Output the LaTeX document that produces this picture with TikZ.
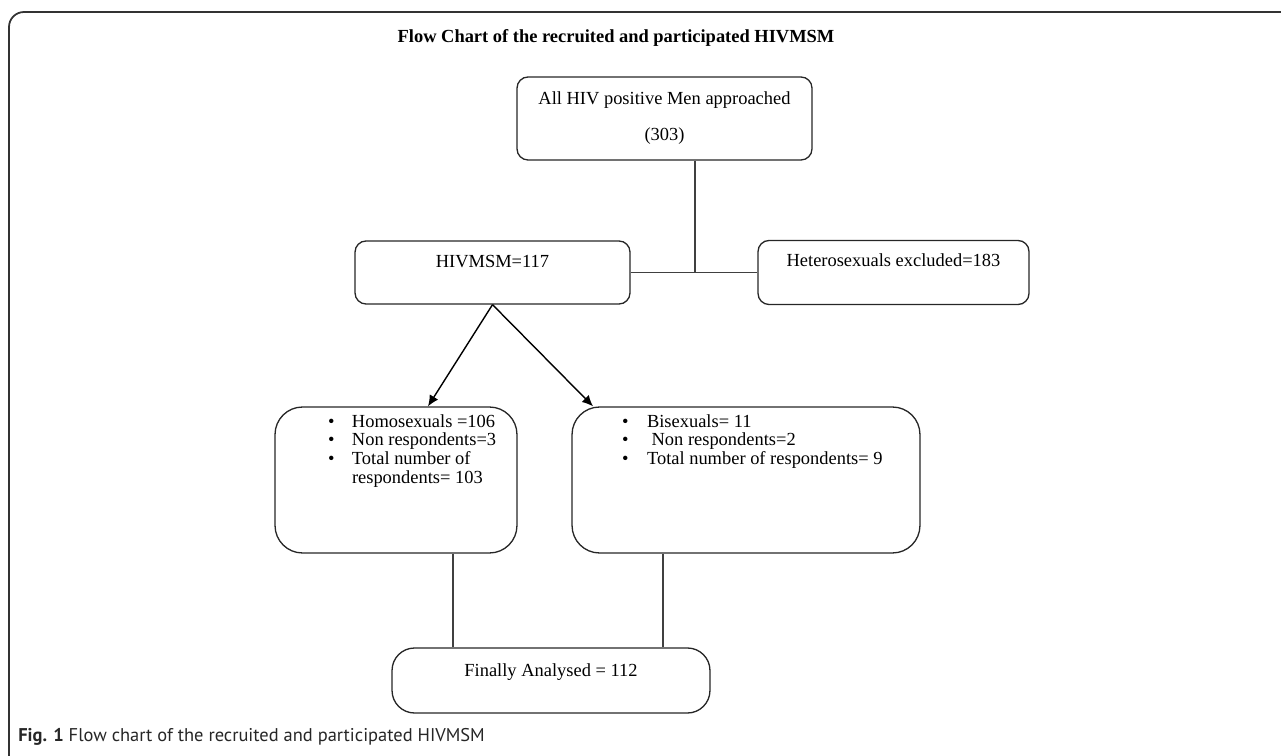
\documentclass[tikz,border=0pt]{standalone}
\usepackage{fontspec}
\setmainfont{Liberation Serif}
\newfontfamily\capfont{PT Sans}
\usetikzlibrary{arrows.meta}
\newcommand{\boxtext}[4]{\parbox[c][#2][t]{#1}{\centering\rule{0pt}{#3}#4}}
\newcommand{\listtext}[4]{\parbox[c][#2][t]{#1}{\raggedright\rule{0pt}{#3}#4}}
\newcommand{\bul}[2]{\makebox[#1][l]{\textbullet}#2}
\begin{document}
\begin{tikzpicture}[x=0.02cm, y=-0.02cm,
    flowbox/.style={draw=black!85, line width=0.75pt, rounded corners=0.22cm, inner sep=0pt,
      font=\fontsize{10.5}{10.8}\selectfont},
    listbox/.style={flowbox, rounded corners=0.55cm},
    link/.style={draw=black!75, line width=0.6pt},
    arrow/.style={link, draw=black, line width=0.8pt, -{Latex[length=0.22cm, width=0.2cm]}}]
  \useasboundingbox (0,0) rectangle (1281,756);
  % frame and captions
  \draw [black!80, line width=1pt, rounded corners=0.3cm] (9,760) -- (9,12) -- (1285,12);
  \node (title) at (616,38) {\fontsize{10.5}{12}\selectfont\bfseries Flow Chart of the recruited and participated HIVMSM};
  \node [anchor=west, inner sep=0pt] (caption) at (18,737)
    {\capfont\fontsize{10.5}{12}\selectfont\color{black!85}\textbf{Fig. 1} Flow chart of the recruited and participated HIVMSM};
  % boxes
  \node [flowbox] (approached) at (664.5,118.5)
    {\boxtext{5.9cm}{1.66cm}{0.56cm}{All HIV positive Men approached\\[0.34cm](303)}};
  \node [flowbox] (msm) at (492.5,272.5) {\boxtext{5.5cm}{1.26cm}{0.54cm}{HIVMSM=117}};
  \node [flowbox] (hetero) at (893.5,272.5) {\boxtext{5.42cm}{1.28cm}{0.52cm}{Heterosexuals excluded=183}};
  \node [listbox] (homo) at (396,480)
    {\listtext{4.84cm}{2.92cm}{0.4cm}{%
      \hspace*{1.06cm}\bul{0.48cm}{Homosexuals =106}\\
      \hspace*{1.06cm}\bul{0.48cm}{Non respondents=3}\\
      \hspace*{1.06cm}\bul{0.48cm}{Total number of}\\
      \hspace*{1.54cm}respondents= 103}};
  \node [listbox] (bi) at (746,480)
    {\listtext{6.96cm}{2.92cm}{0.4cm}{%
      \hspace*{1.0cm}\bul{0.5cm}{Bisexuals= 11}\\
      \hspace*{1.0cm}\bul{0.5cm}{\ Non respondents=2}\\
      \hspace*{1.0cm}\bul{0.5cm}{Total number of respondents= 9}}};
  \node [flowbox, rounded corners=0.45cm] (analysed) at (551,680.5)
    {\boxtext{6.36cm}{1.3cm}{0.56cm}{Finally Analysed = 112}};
  % connectors
  \draw [link] ([xshift=0.61cm]approached.south) -- ([xshift=0.61cm]approached.south |- msm.east);
  \draw [link] (msm.east) -- (hetero.west);
  \draw [arrow] (msm.south) -- ([xshift=0.64cm]homo.north);
  \draw [arrow] (msm.south) -- ([xshift=-3.06cm]bi.north);
  \draw [link] ([xshift=1.14cm]homo.south) -- ([xshift=1.14cm]homo.south |- analysed.north);
  \draw [link] ([xshift=-1.66cm]bi.south) -- ([xshift=-1.66cm]bi.south |- analysed.north);
\end{tikzpicture}
\end{document}
